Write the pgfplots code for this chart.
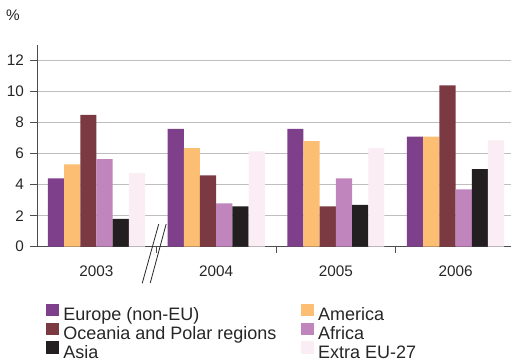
\documentclass[border=0pt]{standalone}
\usepackage{pgfplots}
\usepackage{pgfplotstable}
\pgfplotsset{compat=1.18}
\usepackage{fontspec}
\setmainfont{Liberation Sans}

\definecolor{europe}{HTML}{7E3F8B}
\definecolor{america}{HTML}{FCBE73}
\definecolor{oceania}{HTML}{7B3A42}
\definecolor{africa}{HTML}{C085BC}
\definecolor{asia}{HTML}{231F20}
\definecolor{extra}{HTML}{FBEDF4}
\definecolor{txt}{HTML}{262626}
\definecolor{axisgray}{HTML}{4D4D4D}
\definecolor{gridgray}{HTML}{BEBEBE}

% share of each origin, per year (%)
\pgfplotstableread{
x europe america oceania africa asia extra
0 4.4  5.3  8.5  5.65 1.8 4.75
1 7.6  6.35 4.6  2.8  2.6 6.15
2 7.6  6.8  2.6  4.4  2.7 6.35
3 7.1  7.1  10.4 3.7  5.0 6.85
}\datatable

\begin{document}
\begin{tikzpicture}
\begin{axis}[
  scale only axis,
  width=474pt, height=201.7pt,
  xmin=-0.497, xmax=3.463, ymin=0, ymax=13,
  clip=false,
  ybar=0pt, bar width=16.2pt,
  axis lines*=left,
  axis line style={axisgray, line width=0.8pt},
  tick style={axisgray, line width=0.8pt},
  tick align=outside,
  major tick length=7pt, minor tick length=6pt,
  xtick={0,1,2,3}, xticklabels={2003,2004,2005,2006},
  minor xtick={0.5,1.5,2.5},
  major x tick style={draw=none},
  ytick={0,2,...,12},
  ymajorgrids, grid style={gridgray, line width=0.8pt},
  /pgf/number format/assume math mode=true,
  tick label style={font=\fontsize{15.3}{18}\selectfont, text=txt, inner sep=0pt},
  xticklabel style={anchor=north, yshift=-11.5pt},
  yticklabel style={anchor=east, xshift=-6pt},
  legend columns=2,
  legend cell align=left,
  legend style={
    at={(0.019,-0.2829)}, anchor=north west,
    draw=none, fill=none, inner sep=0pt, outer sep=0pt,
    font=\fontsize{18}{20}\selectfont, text=txt,
    nodes={inner sep=0pt, text height=13pt, text depth=4pt},
    row sep=-2.1pt,
    /tikz/every odd column/.style={column sep=4.6pt},
    /tikz/every even column/.style={column sep=24.5pt},
  },
  legend image code/.code={\fill[#1] (0pt,0.15pt) rectangle (12.7pt,12.45pt);},
]
\addplot[fill=europe, draw=none]  table[x=x, y=europe]  {\datatable};
\addplot[fill=america, draw=none] table[x=x, y=america] {\datatable};
\addplot[fill=oceania, draw=none] table[x=x, y=oceania] {\datatable};
\addplot[fill=africa, draw=none]  table[x=x, y=africa]  {\datatable};
\addplot[fill=asia, draw=none]    table[x=x, y=asia]    {\datatable};
\addplot[fill=extra, draw=none]   table[x=x, y=extra]   {\datatable};
\legend{Europe (non-EU), America, Oceania and Polar regions, Africa, Asia, Extra EU-27}

% axis break marks between the first two years
\draw[txt, line width=0.8pt] (axis cs:0.382,-2.36) -- (axis cs:0.520,1.46);
\draw[txt, line width=0.8pt] (axis cs:0.449,-2.34) -- (axis cs:0.582,1.46);

\node[font=\fontsize{15.3}{18}\selectfont, text=txt, inner sep=0pt]
  at (rel axis cs:0,1) [xshift=-24pt, yshift=29.7pt] {\%};
\end{axis}
\pgfresetboundingbox
\useasboundingbox (-37pt,-113.3pt) rectangle (474pt,246.7pt);
\end{tikzpicture}
\end{document}
